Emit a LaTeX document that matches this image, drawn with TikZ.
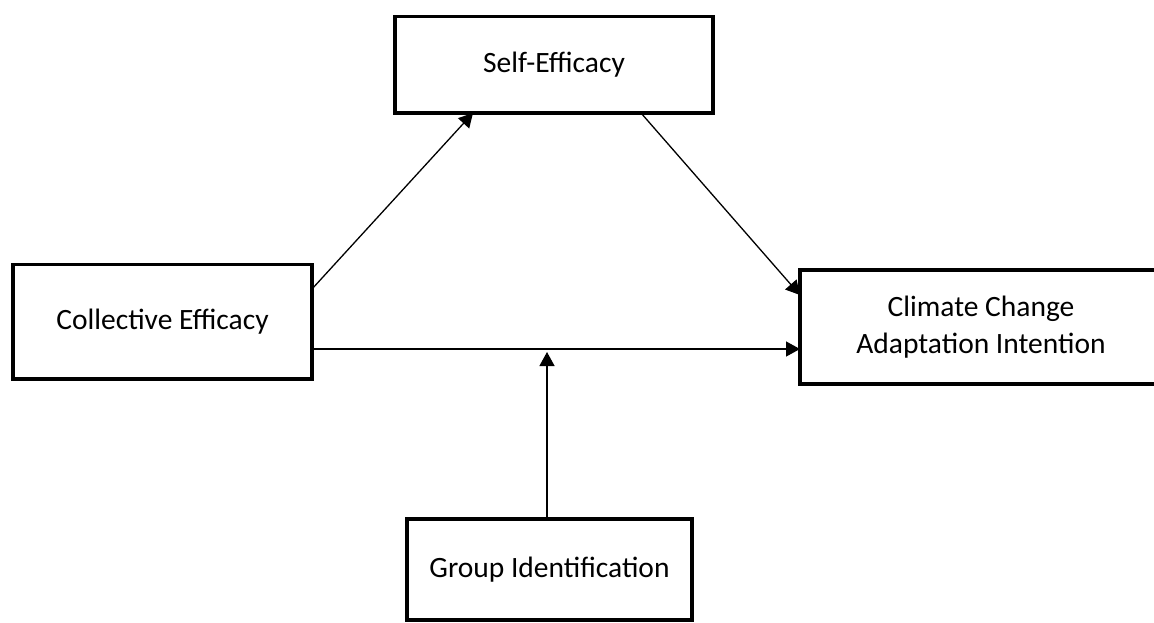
\documentclass[tikz,border=0pt]{standalone}
\usepackage{fontspec}
\setmainfont{Carlito}
\usetikzlibrary{arrows.meta}
\begin{document}
\begin{tikzpicture}[x=1pt,y=-1pt,
  box/.style={draw=black,line width=3.5pt,fill=white,inner sep=0pt,outer sep=0pt,
    align=center,font=\fontsize{29.5}{37}\selectfont},
  arr/.style={draw=black,line width=1.3pt,-{Triangle[length=14pt,width=15pt]}}]
\fill[white] (0,0) rectangle (1154,622);
\useasboundingbox (0,0) rectangle (1154,622);
\clip (0,0) rectangle (1154,622);
\node[box,minimum width=318pt,minimum height=96.5pt] (self) at (554,64.75) {Self-Efficacy};
\node[box,minimum width=299pt,minimum height=114.5pt] (coll) at (162.5,321.75) {Collective Efficacy};
\node[box,minimum width=362pt,minimum height=114pt] (clim) at (981,327) {Climate Change\\Adaptation Intention};
\node[box,minimum width=285pt,minimum height=101pt] (grp) at (549.5,569.5) {Group Identification};
\coordinate (c1) at (coll.east |- 0,289);
\coordinate (s1) at (self.south -| 473,0);
\coordinate (s2) at (self.south -| 641,0);
\coordinate (k1) at (clim.west |- 0,295);
\coordinate (c2) at (coll.east |- 0,349);
\coordinate (k2) at (clim.west |- 0,349);
\coordinate (g1) at (grp.north -| 547,0);
\coordinate (m) at (547,352);
\draw[arr] (c1) -- (s1);
\draw[arr] (s2) -- (k1);
\draw[arr] (c2) -- (k2);
\draw[arr] (g1) -- (m);
\end{tikzpicture}
\end{document}
